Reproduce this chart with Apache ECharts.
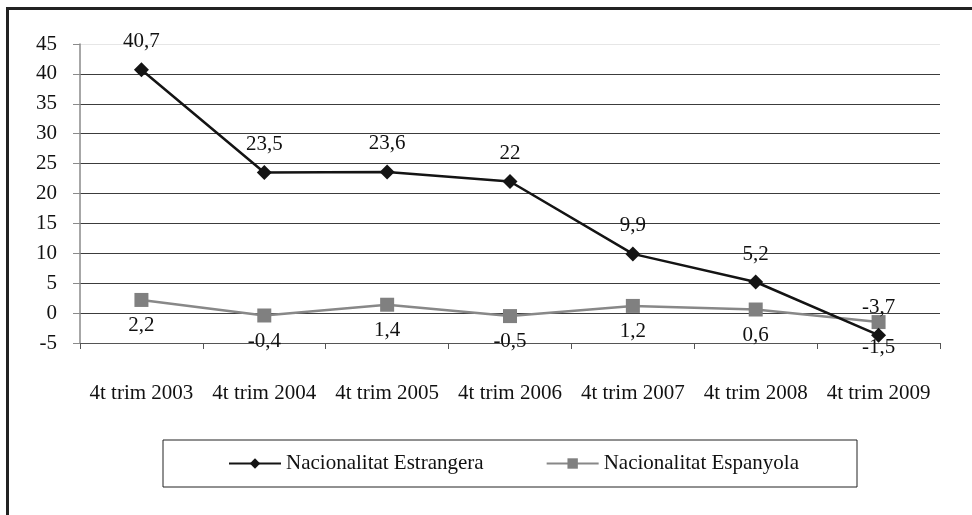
<!DOCTYPE html>
<html>
<head>
<meta charset="utf-8">
<script src="https://cdn.jsdelivr.net/npm/echarts@6/dist/echarts.min.js"></script>
<style>
  html, body { margin: 0; padding: 0; background: #fff; }
  #chart { width: 972px; height: 515px; }
</style>
</head>
<body>
<div id="chart"></div>
<script>
// Quarterly change by nationality (4th quarter of each year)
const categories = ['4t trim 2003', '4t trim 2004', '4t trim 2005', '4t trim 2006', '4t trim 2007', '4t trim 2008', '4t trim 2009'];
const estrangera = [40.7, 23.5, 23.6, 22, 9.9, 5.2, -3.7];
const espanyola = [2.2, -0.4, 1.4, -0.5, 1.2, 0.6, -1.5];
const seriesNames = ['Nacionalitat Estrangera', 'Nacionalitat Espanyola'];
const yMin = -5, yMax = 45, yStep = 5;

const FONT = '"Liberation Serif", "Times New Roman", serif';
const fmt = v => String(v).replace('.', ',');

// Gridline colours listed from the bottom tick upward; the top line is faint
const splitColors = [];
for (let v = yMin; v <= yMax; v += yStep) {
  splitColors.push(v === yMax ? '#e6e6e6' : '#3c3c3c');
}

const chart = echarts.init(document.getElementById('chart'), null, { renderer: 'canvas' });
chart.setOption({
  backgroundColor: '#fff',
  animation: false,
  textStyle: { fontFamily: FONT },
  graphic: [
    { type: 'line', shape: { x1: 7.5, y1: 8.5, x2: 972, y2: 8.5 }, style: { stroke: '#222', lineWidth: 3 }, z: 100 },
    { type: 'line', shape: { x1: 7.5, y1: 7, x2: 7.5, y2: 515 }, style: { stroke: '#222', lineWidth: 3 }, z: 100 }
  ],
  grid: { left: 80, right: 32, top: 44, bottom: 172, containLabel: false },
  legend: {
    left: 163,
    top: 440,
    orient: 'horizontal',
    padding: [13, 58, 13, 65],
    borderColor: '#222',
    borderWidth: 1,
    itemWidth: 52,
    itemHeight: 13,
    itemGap: 62,
    textStyle: { fontFamily: FONT, fontSize: 21, color: '#111' },
    data: seriesNames
  },
  xAxis: {
    type: 'category',
    data: categories,
    boundaryGap: true,
    axisLine: { onZero: false, lineStyle: { color: '#555', width: 1.2 } },
    axisTick: { show: true, length: 6, lineStyle: { color: '#555' } },
    axisLabel: { interval: 0, margin: 40, fontFamily: FONT, fontSize: 21, color: '#111' },
    splitLine: { show: false }
  },
  yAxis: {
    type: 'value',
    min: yMin,
    max: yMax,
    interval: yStep,
    axisLine: { show: true, lineStyle: { color: '#8a8a8a', width: 1.5 } },
    axisTick: { show: true, length: 7, lineStyle: { color: '#8a8a8a' } },
    axisLabel: { margin: 23, fontFamily: FONT, fontSize: 21, color: '#111' },
    splitLine: { show: true, lineStyle: { color: splitColors, width: 1 } }
  },
  series: [
    {
      name: seriesNames[0],
      type: 'line',
      data: estrangera,
      symbol: 'diamond',
      symbolSize: 15,
      itemStyle: { color: '#141414' },
      lineStyle: { color: '#141414', width: 2.5 },
      label: {
        show: true,
        position: 'top',
        distance: 10,
        fontFamily: FONT,
        fontSize: 21,
        color: '#111',
        formatter: p => fmt(p.value)
      },
      z: 3
    },
    {
      name: seriesNames[1],
      type: 'line',
      data: espanyola,
      symbol: 'rect',
      symbolSize: 14,
      itemStyle: { color: '#808080' },
      lineStyle: { color: '#888888', width: 2.5 },
      label: {
        show: true,
        position: 'bottom',
        distance: 8,
        fontFamily: FONT,
        fontSize: 21,
        color: '#111',
        formatter: p => fmt(p.value)
      },
      z: 2
    }
  ]
});
</script>
</body>
</html>
